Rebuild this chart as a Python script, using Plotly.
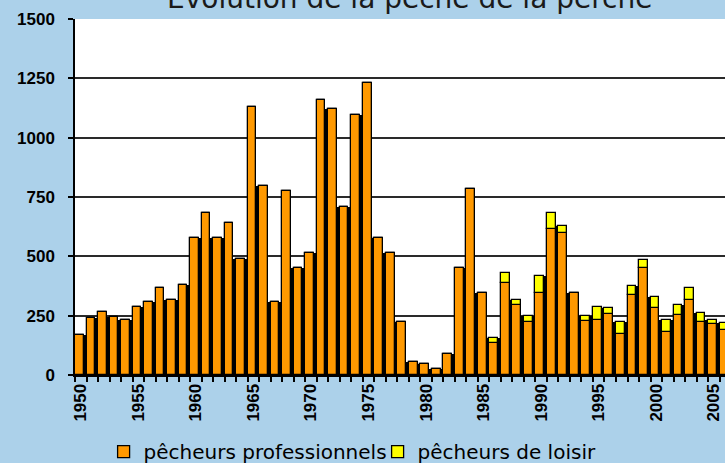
import plotly.graph_objects as go

# ---- data ----
years = list(range(1950, 2007))
pecheurs_pro = [169, 242, 264, 245, 232, 285, 308, 367, 318, 379,
                576, 682, 576, 640, 487, 1130, 795, 306, 774, 452,
                515, 1160, 1120, 709, 1097, 1232, 576, 515, 223, 56,
                47, 24, 89, 452, 784, 346, 135, 388, 297, 222,
                346, 617, 597, 346, 226, 233, 257, 174, 339, 452,
                284, 181, 254, 318, 224, 214, 190]
pecheurs_loisir = [0] * 36 + [22, 43, 21, 28, 73, 65, 31, 0, 24, 54,
                              25, 48, 38, 32, 44, 50, 41, 49, 39, 18, 29]
tick_years = list(range(1950, 2006, 5))
tick_labels = [str(y) for y in tick_years]
y_ticks = [0, 250, 500, 750, 1000, 1250, 1500]
title_text = "Evolution de la pêche de la perche"
name_pro = "pêcheurs professionnels"
name_loisir = "pêcheurs de loisir"

totals = [a + b for a, b in zip(pecheurs_pro, pecheurs_loisir)]
# dark gaps between neighbouring bars (3D-like shading of the original)
gap_x = [y + 0.5 for y in years[:-1]]
gap_h = [min(totals[i], totals[i + 1]) for i in range(len(years) - 1)]

fig = go.Figure()
fig.add_trace(go.Bar(x=gap_x, y=gap_h, width=0.32, offset=-0.27,
                     marker=dict(color="black", line=dict(width=0)),
                     showlegend=False, hoverinfo="skip"))
fig.add_trace(go.Bar(x=years, y=pecheurs_pro, name=name_pro,
                     width=0.76, offset=-0.5,
                     marker=dict(color="#ff9900", line=dict(color="black", width=1.3))))
fig.add_trace(go.Bar(x=years, y=pecheurs_loisir, base=pecheurs_pro, name=name_loisir,
                     width=0.76, offset=-0.5,
                     marker=dict(color="#ffff00", line=dict(color="black", width=1.3))))

tick_font = dict(family="Liberation Sans", size=17, color="black", weight="bold")

fig.update_layout(
    width=725, height=463,
    margin=dict(l=75, r=0, t=19, b=88, autoexpand=False),
    paper_bgcolor="#acd1ea",
    plot_bgcolor="white",
    barmode="overlay",
    bargap=0,
    showlegend=True,
    legend=dict(orientation="h", x=0.044, xanchor="left", y=-0.215, yanchor="middle",
                font=dict(family="DejaVu Sans", size=20, color="black"),
                bgcolor="rgba(0,0,0,0)", itemwidth=30, traceorder="normal",
                entrywidth=229, entrywidthmode="pixels"),
    xaxis=dict(range=[1949.5, 2005.97], tickmode="array", tickvals=tick_years,
               ticktext=tick_labels, tickangle=-90, ticks="", showgrid=False,
               showline=True, linecolor="black", linewidth=2, zeroline=False,
               tickfont=tick_font, automargin=False,
               minor=dict(tickmode="linear", tick0=1949.5, dtick=1, ticks="outside",
                          ticklen=5, tickwidth=1.5, tickcolor="black", showgrid=False)),
    yaxis=dict(range=[0, 1500], tickmode="array", tickvals=y_ticks,
               ticks="outside", ticklen=5, tickwidth=2, tickcolor="black",
               showgrid=True, gridcolor="#2a2a2a", gridwidth=2,
               showline=True, linecolor="black", linewidth=1.5, zeroline=False,
               tickfont=tick_font, ticklabelstandoff=10, automargin=False),
    annotations=[dict(text=title_text, xref="paper", yref="paper",
                      x=0.514, y=1.0 + 2 / 356, xanchor="center", yanchor="bottom",
                      showarrow=False,
                      font=dict(family="DejaVu Sans", size=28, color="#1a1a1a"))],
)

fig.write_html("out.html", config={"displayModeBar": False},
               post_script="document.body.style.margin='0px';document.body.style.overflow='hidden';")
